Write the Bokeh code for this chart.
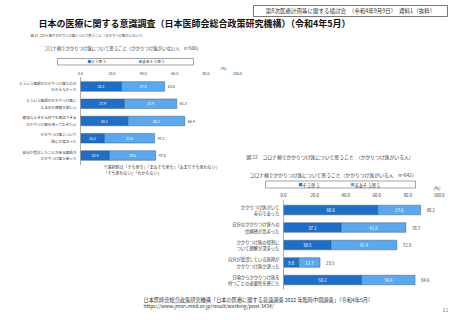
from bokeh.plotting import figure
from bokeh.models import Range1d
from bokeh.embed import file_html
from bokeh.resources import INLINE
from bokeh.core.properties import value

# ---------------- data ----------------
left_line1 = ["どういう医師がかかりつけ医なのか", "どういう医師がかかりつけ医に",
              "健康なときから何でも相談できる", "かかりつけ医について", "自分が受診したことがある医師が"]
left_line2 = ["わからなかった", "なるのか情報が欲しい", "かかりつけ医を持っておきたい",
              "関心が高まった", "かかりつけ医か迷った"]
left_sou = [26.1, 27.9, 30.2, 15.2, 18.4]
left_maa = [27.5, 33.4, 36.2, 32.0, 29.5]
left_total = [53.6, 61.3, 66.4, 47.2, 47.8]

right_line1 = ["かかりつけ医がいて", "自分のかかりつけ医への", "かかりつけ医の役割に",
               "自分が受診している医師が", "日頃からかかりつけ医を"]
right_line2 = ["安心であった", "信頼感が高まった", "ついて理解が深まった",
               "かかりつけ医か迷った", "持つことの必要性を感じた"]
right_sou = [60.6, 37.1, 30.5, 9.8, 50.2]
right_maa = [27.6, 41.6, 42.4, 13.7, 34.4]
right_total = [88.2, 78.7, 72.9, 23.5, 84.6]

tick_values = [0, 20, 40, 60, 80, 100]
tick_labels = ["0.0", "20.0", "40.0", "60.0", "80.0", "100.0"]
legend_labels = ["そう思う", "まあそう思う"]

# ---------------- style ----------------
W, H = 453, 320
FONT = value("Noto Sans CJK JP")
DARK = "#1F6FC6"
LIGHT = "#5BA8EF"
TXT = "#333333"

p = figure(width=W, height=H, x_range=Range1d(0, W), y_range=Range1d(H, 0),
           x_axis_location=None, y_axis_location=None, toolbar_location=None,
           output_backend="svg", min_border=0, outline_line_color=None,
           title=None)
p.grid.visible = False
p.background_fill_color = "white"
p.border_fill_color = "white"

# chart scales: left  0 -> px 80, 100 -> px 237 ; rows at px 86 + 17.25*i
lx0, lsc = 80.0, 1.57
p.extra_x_ranges["lx"] = Range1d(-lx0 / lsc, (W - lx0) / lsc)
ly0, lstep = 86.0, 17.25
p.extra_y_ranges["ly"] = Range1d((H - ly0) / lstep, -ly0 / lstep)
# right 0 -> px 283, 100 -> px 438.5 ; rows at px 209.5 + 17.5*i
rx0, rsc = 283.0, 1.555
p.extra_x_ranges["rx"] = Range1d(-rx0 / rsc, (W - rx0) / rsc)
ry0, rstep = 209.5, 17.5
p.extra_y_ranges["ry"] = Range1d((H - ry0) / rstep, -ry0 / rstep)


def T(x, y, s, size, color=TXT, align="left", bold=False, baseline="middle"):
    p.text(x=[x], y=[y], text=[s], text_font=FONT, text_font_size=f"{size}px",
           text_color=color, text_align=align, text_baseline=baseline,
           text_font_style="bold" if bold else "normal")


# header
p.quad(left=[253], right=[447], top=[5], bottom=[16], fill_color=None,
       line_color="#555555", line_width=0.8)
T(350, 10.5, "第8次医療計画等に関する検討会　（令和4年9月9日）　資料1（抜粋）", 5.5, align="center")
T(38, 23, "日本の医療に関する意識調査（日本医師会総合政策研究機構）（令和4年5月）", 9.0, color="#111111", bold=True)


def chart(xr, yr, sou, maa, total, l1, l2, fsz, lab_off, tot_off, tick_y, bh):
    n = len(sou)
    idx = list(range(n))
    ends = [a + b for a, b in zip(sou, maa)]
    p.hbar(y=idx, left=0, right=sou, height=bh, fill_color=DARK, line_color="#2a3f5a",
           line_width=0.4, x_range_name=xr, y_range_name=yr)
    p.hbar(y=idx, left=sou, right=ends, height=bh, fill_color=LIGHT, line_color="#2a3f5a",
           line_width=0.4, x_range_name=xr, y_range_name=yr)
    p.segment(x0=[0], x1=[0], y0=[-0.55], y1=[n - 0.45], line_color="#999999",
              line_width=0.8, x_range_name=xr, y_range_name=yr)
    common = dict(text_font=FONT, text_font_size=f"{fsz}px", text_baseline="middle",
                  x_range_name=xr, y_range_name=yr)
    p.text(x=[s / 2 for s in sou], y=idx, text=[f"{v:.1f}" for v in sou],
           text_color="white", text_align="center", **common)
    p.text(x=[s + m / 2 for s, m in zip(sou, maa)], y=idx, text=[f"{v:.1f}" for v in maa],
           text_color="white", text_align="center", **common)
    p.text(x=ends, y=idx, text=[f"{v:.1f}" for v in total], x_offset=tot_off,
           text_color=TXT, text_align="left", **common)
    p.text(x=[0] * n, y=idx, text=l1, x_offset=-lab_off, y_offset=-3.3,
           text_color=TXT, text_align="right", **common)
    p.text(x=[0] * n, y=idx, text=l2, x_offset=-lab_off, y_offset=3.3,
           text_color=TXT, text_align="right", **common)
    p.text(x=tick_values, y=[tick_y] * len(tick_values), text=tick_labels,
           text_font=FONT, text_font_size=f"{fsz}px", text_baseline="middle",
           text_align="center", text_color=TXT, x_range_name=xr)


# left chart
T(30, 35, "図 21 コロナ禍でかかりつけ医について思うこと （かかりつけ医がいない人）", 3.3)
T(43, 47, "コロナ禍でかかりつけ医について思うこと（かかりつけ医がいない人　n=506）", 4.4)
p.quad(left=[57], right=[193], top=[58], bottom=[64.5], fill_color=None,
       line_color="#666666", line_width=0.6)
T(87, 61.3, "■", 3.6, color=DARK)
T(90.5, 61.3, legend_labels[0], 3.8)
T(138, 61.3, "■", 3.6, color=LIGHT)
T(141.5, 61.3, legend_labels[1], 3.8)
T(220, 68, "(%)", 3.8)
chart("lx", "ly", left_sou, left_maa, left_total, left_line1, left_line2,
      3.6, 4, 3, 73, 0.56)
T(103, 166.5, "※選択肢は「そう思う」「まあそう思う」「あまりそう思わない」", 4.0)
T(103, 172.5, "「そう思わない」「わからない」", 4.0)

# right chart
T(246, 156, "図 22　コロナ禍でかかりつけ医について思うこと　（かかりつけ医がいる人）", 4.8)
T(249, 174, "コロナ禍でかかりつけ医について思うこと（かかりつけ医がいる人　n=642）", 4.8)
p.quad(left=[265], right=[415], top=[180.5], bottom=[187.5], fill_color=None,
       line_color="#666666", line_width=0.6)
T(298, 184, "■", 4.0, color=DARK)
T(302, 184, legend_labels[0], 4.3)
T(350, 184, "■", 4.0, color=LIGHT)
T(354, 184, legend_labels[1], 4.3)
T(433, 187, "(%)", 4.3)
chart("rx", "ry", right_sou, right_maa, right_total, right_line1, right_line2,
      4.3, 4, 6, 194, 0.55)

# footer
T(143, 298.5, "日本医師会総合政策研究機構「日本の医療に関する意識調査 2022 年臨時中間調査」（令和4年5月）", 5.2)
T(143, 305, "https://www.jmari.med.or.jp/result/working/post-3434/", 5.0)
T(445, 309.5, "21", 5.2, color="#888888", align="center")

open("out.html", "w").write(file_html(p, INLINE))
